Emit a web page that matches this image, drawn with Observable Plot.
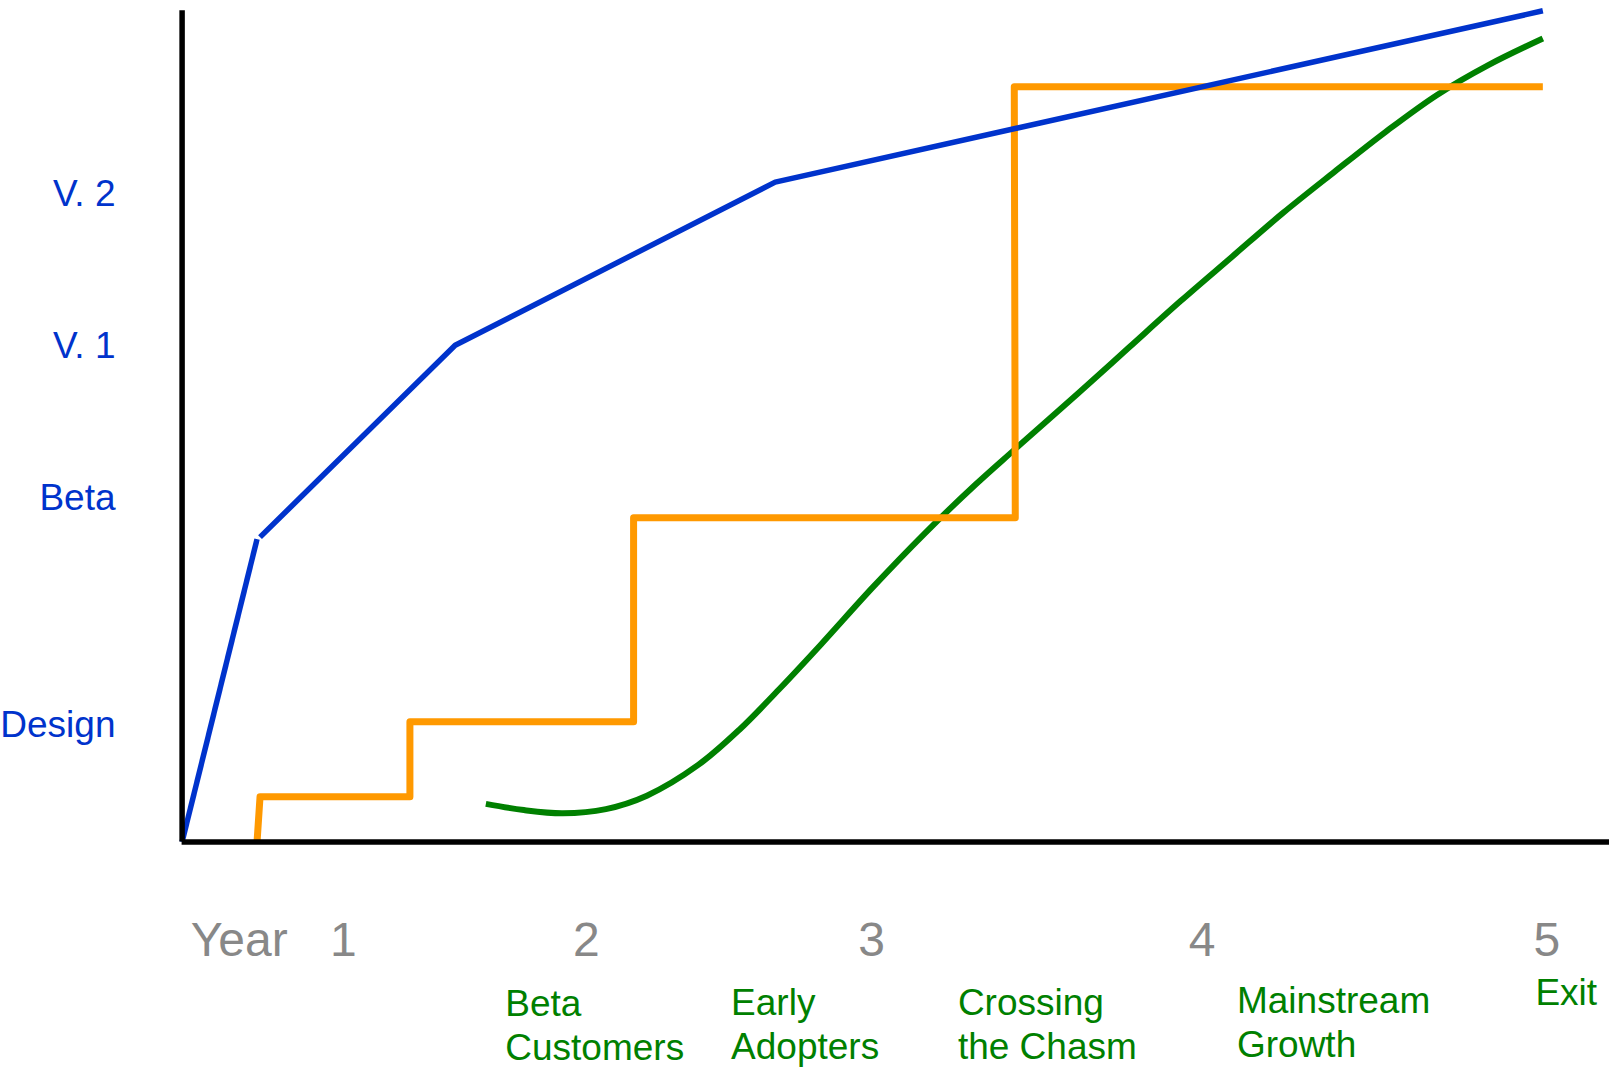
<!DOCTYPE html>
<html>
<head>
<meta charset="utf-8">
<script src="https://cdn.jsdelivr.net/npm/d3@7"></script>
<script src="https://cdn.jsdelivr.net/npm/@observablehq/plot@0.6"></script>
<style>
  html, body { margin: 0; padding: 0; background: #fff; }
  #chart svg { display: block; }
</style>
</head>
<body>
<div id="chart"></div>
<script>
// Horizontal time axis (arbitrary units 0..100), year tick positions and labels
const yearTicks = [4.0, 11.29, 28.32, 48.31, 71.46, 95.61];
const yearLabels = ["Year", "1", "2", "3", "4", "5"];

// Product milestones on the vertical axis
const milestoneTicks = [14.08, 41.36, 59.63, 77.91];
const milestoneLabels = ["Design", "Beta", "V. 1", "V. 2"];

// Product development (blue), two segments
const productX = [0, 5.25, 5.46, 19.13, 41.55, 95.33];
const productY = [0, 36.42, 36.67, 59.75, 79.39, 100];
const productSeg = [0, 0, 1, 1, 1, 1];

// Funding steps (orange)
const fundX = [5.25, 5.46, 15.96, 15.96, 31.63, 31.63, 58.37, 58.30, 95.33];
const fundY = [0, 5.43, 5.43, 14.45, 14.45, 39.01, 39.01, 90.87, 90.87];

// Customer adoption curve (green)
const adoptX = [21.28, 23.94, 26.67, 29.69, 32.56, 36.16, 39.04, 41.91, 44.79, 48.38, 51.98, 55.57, 58.30, 62.76, 66.35, 69.95, 73.54, 77.13, 80.73, 84.32, 87.92, 91.51, 95.33];
const adoptY = [4.57, 3.83, 3.45, 3.95, 5.56, 9.26, 13.50, 18.52, 23.82, 30.62, 37.04, 42.97, 47.17, 53.95, 59.51, 65.07, 70.38, 75.68, 80.62, 85.44, 89.88, 93.47, 96.67];

// Market stage labels (green, below the axis)
const stageLabels = ["Beta\nCustomers", "Early\nAdopters", "Crossing\nthe Chasm", "Mainstream\nGrowth", "Exit"];
const stageX = [22.64, 38.46, 54.35, 73.9, 94.81];
const stageY = [-17.14, -17.02, -17.02, -16.78, -15.81];

const BLUE = "#0033cc", ORANGE = "#ff9900", GREEN = "#008000", GRAY = "#888888";

const product = productX.map((x, i) => ({x, y: productY[i], seg: productSeg[i]}));
const fund = fundX.map((x, i) => ({x, y: fundY[i]}));
const adopt = adoptX.map((x, i) => ({x, y: adoptY[i]}));
const stages = stageLabels.map((t, i) => ({t, x: stageX[i], y: stageY[i]}));
const yearMap = new Map(yearTicks.map((d, i) => [d, yearLabels[i]]));
const msMap = new Map(milestoneTicks.map((d, i) => [d, milestoneLabels[i]]));

const chart = Plot.plot({
  width: 1609,
  height: 1070,
  marginLeft: 181.6,
  marginRight: 0,
  marginTop: 10.3,
  marginBottom: 228.6,
  style: {fontFamily: "'Liberation Sans', Arial, Helvetica, sans-serif", background: "#fff"},
  x: {domain: [0, 100]},
  y: {domain: [0, 100]},
  marks: [
    Plot.axisX(yearTicks, {tickSize: 0, tickPadding: 80.5, fontSize: 48, color: GRAY, tickFormat: d => yearMap.get(d), label: null}),
    Plot.axisY(milestoneTicks, {tickSize: 0, tickPadding: 66.6, fontSize: 37, color: BLUE, tickFormat: d => msMap.get(d), label: null}),
    Plot.line(adopt, {x: "x", y: "y", stroke: GREEN, strokeWidth: 6, curve: "catmull-rom", strokeLinecap: "butt"}),
    Plot.line(fund, {x: "x", y: "y", stroke: ORANGE, strokeWidth: 7, strokeLinejoin: "round", strokeLinecap: "butt"}),
    Plot.line(product, {x: "x", y: "y", z: "seg", stroke: BLUE, strokeWidth: 5.5, strokeLinejoin: "miter", strokeLinecap: "butt"}),
    Plot.ruleX([0], {y1: 0, y2: 100, stroke: "#000", strokeWidth: 5.5}),
    Plot.ruleY([0], {x1: 0, x2: 100, stroke: "#000", strokeWidth: 5.5}),
    Plot.text(stages, {x: "x", y: "y", text: "t", textAnchor: "start", lineAnchor: "top", lineHeight: 1.2, fontSize: 37, fill: GREEN})
  ]
});
document.getElementById("chart").appendChild(chart);
</script>
</body>
</html>
